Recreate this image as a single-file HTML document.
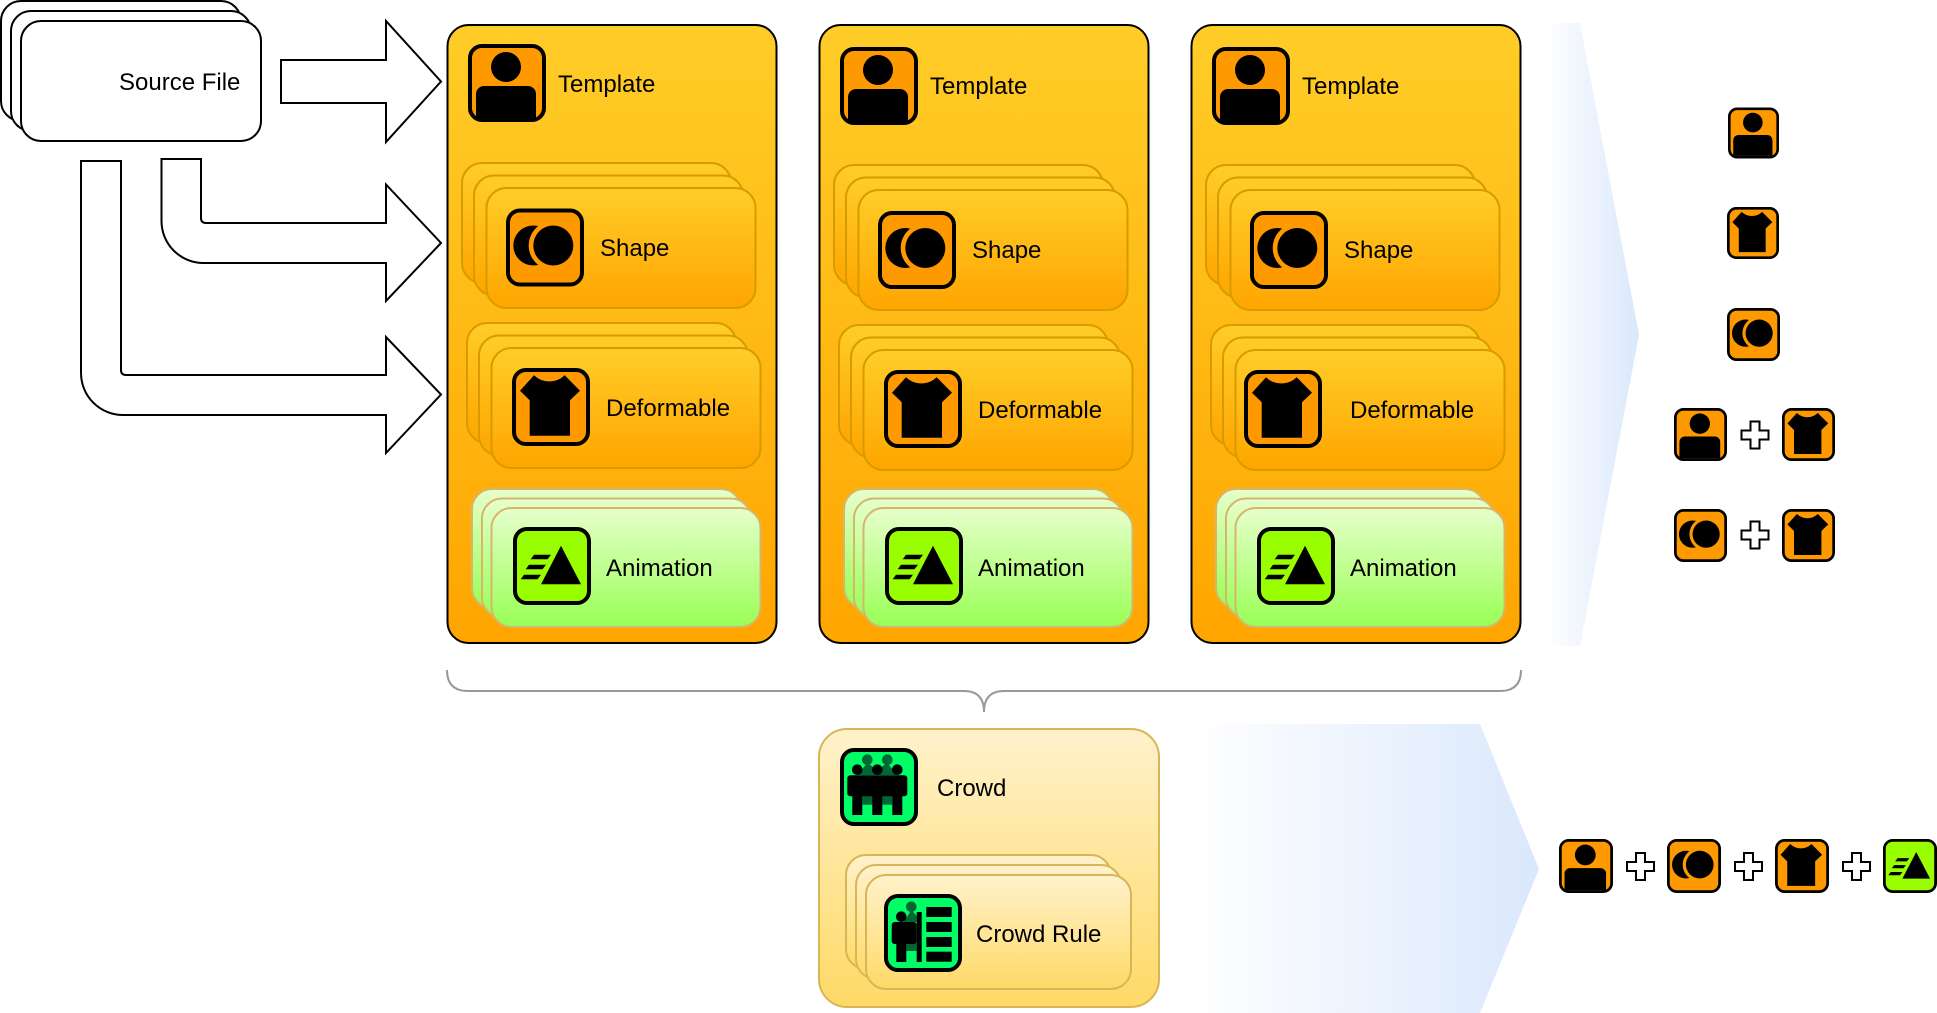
<!DOCTYPE html>
<html>
<head>
<meta charset="utf-8">
<style>
html,body{margin:0;padding:0;background:#fff;width:1937px;height:1013px;overflow:hidden}
svg{display:block}
text{font-family:"Liberation Sans",sans-serif;font-size:24px;fill:#000}
</style>
</head>
<body>
<svg width="1937" height="1013" viewBox="0 0 1937 1013" xmlns="http://www.w3.org/2000/svg">
<defs>
<linearGradient id="gO" x1="0" y1="0" x2="0" y2="1"><stop offset="0" stop-color="#ffcd28"/><stop offset="1" stop-color="#ffa500"/></linearGradient>
<linearGradient id="gG" x1="0" y1="0" x2="0" y2="1"><stop offset="0" stop-color="#e6ffcc"/><stop offset="1" stop-color="#99ff55"/></linearGradient>
<linearGradient id="gY" x1="0" y1="0" x2="0" y2="1"><stop offset="0" stop-color="#fff2cc"/><stop offset="1" stop-color="#ffd966"/></linearGradient>
<linearGradient id="gB" x1="0" y1="0" x2="1" y2="0"><stop offset="0" stop-color="#ffffff"/><stop offset="1" stop-color="#dae8fc"/></linearGradient>

<symbol id="iT" viewBox="0 0 78 78">
<rect x="2" y="2" width="74" height="74" rx="12" fill="#ff9900"/>
<circle cx="38" cy="23" r="15"/>
<path d="M8 50a8 8 0 0 1 8-8h44a8 8 0 0 1 8 8v24H8z"/>
<rect x="2" y="2" width="74" height="74" rx="12" fill="none" stroke="#000" stroke-width="4"/>
</symbol>
<symbol id="iS" viewBox="0 0 78 78">
<rect x="2" y="2" width="74" height="74" rx="12" fill="#ff9900" stroke="#000" stroke-width="4"/>
<circle cx="27.300" cy="37" r="20"/>
<circle cx="47.300" cy="37" r="24.600" fill="#ff9900"/>
<circle cx="47.300" cy="37" r="20"/>
</symbol>
<symbol id="iD" viewBox="0 0 78 78">
<rect x="2" y="2" width="74" height="74" rx="12" fill="#ff9900" stroke="#000" stroke-width="4"/>
<path d="M8 22.700L22 7.300A22 22 0 0 0 52.700 7.300L68 22.700L58 32.300V67.700H17.700V32.300Z"/>
</symbol>
<symbol id="iA" viewBox="0 0 78 78">
<rect x="2" y="2" width="74" height="74" rx="12" fill="#99ff00" stroke="#000" stroke-width="4"/>
<path d="M48 18.700L68 57.300H28Z"/>
<path d="M21 27.700H38L34.500 32.300H17.700ZM16 37.700H33L29.500 42.300H12.700ZM11 47.700H28L24.500 52.300H7.700Z"/>
</symbol>
<symbol id="iC" viewBox="0 0 78 78">
<rect x="2" y="2" width="74" height="74" rx="12" fill="#00ff66" stroke="#000" stroke-width="4"/>
<g fill="#006633"><circle cx="27.300" cy="11.700" r="5.300"/><circle cx="47.300" cy="11.700" r="5.300"/><path d="M27.300 15L37 22L47.300 15L57 27H17.300Z"/><rect x="22.300" y="46" width="30" height="10.700"/></g>
<circle cx="17.300" cy="21.700" r="5.300"/><circle cx="37.300" cy="21.700" r="5.300"/><circle cx="57.300" cy="21.700" r="5.300"/>
<rect x="7.300" y="27.300" width="60" height="21" rx="3"/>
<rect x="12.300" y="45" width="10" height="22"/><rect x="32.300" y="45" width="10" height="22"/><rect x="52.300" y="45" width="10" height="22"/>
</symbol>
<symbol id="iR" viewBox="0 0 78 78">
<rect x="2" y="2" width="74" height="74" rx="12" fill="#00ff66" stroke="#000" stroke-width="4"/>
<circle cx="27.300" cy="12.700" r="5.300" fill="#006633"/>
<path d="M27.300 16L32.700 22V28H20Z" fill="#006633"/>
<rect x="22.300" y="46" width="10.400" height="11" fill="#006633"/>
<circle cx="17.300" cy="22.700" r="5.300"/>
<rect x="7.700" y="28" width="25" height="22" rx="3"/>
<rect x="12.300" y="45" width="10" height="23"/>
<rect x="32.700" y="18" width="5" height="50"/>
<rect x="42.300" y="13" width="25.400" height="10"/><rect x="42.300" y="28" width="25.400" height="10"/><rect x="42.300" y="43" width="25.400" height="10"/><rect x="42.300" y="57.700" width="25.400" height="10"/>
</symbol>

<g id="stO" fill="url(#gO)" stroke="#d79b00" stroke-width="2">
<rect x="0" y="0" width="269" height="120" rx="20"/>
<rect x="12" y="12.500" width="269" height="120" rx="20"/>
<rect x="24.500" y="25" width="269" height="120" rx="20"/>
</g>
<g id="stG" fill="url(#gG)" stroke="#d7b56a" stroke-width="2">
<rect x="0" y="0" width="269" height="119" rx="20"/>
<rect x="10" y="9.500" width="269" height="119" rx="20"/>
<rect x="19.500" y="19" width="269" height="119" rx="20"/>
</g>
<path id="plus" d="M-4.500 -13.500H4.500V-4.500H13.500V4.500H4.500V13.500H-4.500V4.500H-13.500V-4.500H-4.500Z" fill="#fff" stroke="#000" stroke-width="2"/>
</defs>

<!-- Source file stack -->
<g fill="#fff" stroke="#000" stroke-width="2">
<rect x="1" y="1" width="240" height="120" rx="20"/>
<rect x="11" y="11" width="240" height="120" rx="20"/>
<rect x="21" y="21" width="240" height="120" rx="20"/>
</g>
<text x="119" y="90">Source File</text>

<!-- Arrows -->
<g fill="#fff" stroke="#000" stroke-width="2" stroke-linejoin="miter">
<path d="M281 60H386V21L441 81.500L386 142V103H281Z"/>
<path d="M161.500 159H201V218Q201 223 206 223H386V184.500L441 243L386 301V263H203.500A42 42 0 0 1 161.500 221Z"/>
<path d="M81 161H121V370Q121 375 126 375H386V337L441 394.500L386 453V415H123A42 42 0 0 1 81 373Z"/>
</g>

<!-- Panels -->
<g fill="url(#gO)" stroke="#000" stroke-width="2">
<rect x="447.500" y="25" width="329" height="618" rx="21"/>
<rect x="819.500" y="25" width="329" height="618" rx="21"/>
<rect x="1191.500" y="25" width="329" height="618" rx="21"/>
</g>

<!-- Panel 1 -->
<use href="#iT" x="468" y="44" width="78" height="78"/>
<text x="558" y="92">Template</text>
<use href="#stO" x="462" y="163"/>
<use href="#iS" x="506" y="208.500" width="78" height="78"/>
<text x="600" y="256">Shape</text>
<use href="#stO" x="467" y="323"/>
<use href="#iD" x="512" y="368" width="78" height="78"/>
<text x="606" y="416">Deformable</text>
<use href="#stG" x="472" y="489"/>
<use href="#iA" x="513" y="527" width="78" height="78"/>
<text x="606" y="576">Animation</text>

<!-- Panel 2 -->
<use href="#iT" x="840" y="47" width="78" height="78"/>
<text x="930" y="94">Template</text>
<use href="#stO" x="834" y="165"/>
<use href="#iS" x="878" y="211" width="78" height="78"/>
<text x="972" y="258">Shape</text>
<use href="#stO" x="839" y="325"/>
<use href="#iD" x="884" y="370" width="78" height="78"/>
<text x="978" y="418">Deformable</text>
<use href="#stG" x="844" y="489"/>
<use href="#iA" x="885" y="527" width="78" height="78"/>
<text x="978" y="576">Animation</text>

<!-- Panel 3 -->
<use href="#iT" x="1212" y="47" width="78" height="78"/>
<text x="1302" y="94">Template</text>
<use href="#stO" x="1206" y="165"/>
<use href="#iS" x="1250" y="211" width="78" height="78"/>
<text x="1344" y="258">Shape</text>
<use href="#stO" x="1211" y="325"/>
<use href="#iD" x="1244" y="370" width="78" height="78"/>
<text x="1350" y="418">Deformable</text>
<use href="#stG" x="1216" y="489"/>
<use href="#iA" x="1257" y="527" width="78" height="78"/>
<text x="1350" y="576">Animation</text>

<!-- Brace -->
<path d="M447 670Q447 691 468 691H964Q984 691 984 712Q984 691 1004 691H1500Q1521 691 1521 670" fill="none" stroke="#999" stroke-width="2"/>

<!-- Chevrons -->
<path d="M1544 23H1580L1639 335L1580 646H1544Z" fill="url(#gB)"/>
<path d="M1190 724H1480L1539 869L1480 1013H1190Z" fill="url(#gB)"/>

<!-- Crowd -->
<rect x="819" y="729" width="340" height="278" rx="28" fill="url(#gY)" stroke="#d6b656" stroke-width="2"/>
<use href="#iC" x="840" y="748" width="78" height="78"/>
<text x="937" y="796">Crowd</text>
<g fill="url(#gY)" stroke="#d6b656" stroke-width="2">
<rect x="846" y="855" width="265" height="114" rx="20"/>
<rect x="856" y="865" width="265" height="114" rx="20"/>
<rect x="866" y="875" width="265" height="114" rx="20"/>
</g>
<use href="#iR" x="884" y="894" width="78" height="78"/>
<text x="976" y="942">Crowd Rule</text>

<!-- Right icons -->
<use href="#iT" x="1728" y="107" width="51" height="52"/>
<use href="#iD" x="1727" y="207" width="52" height="52"/>
<use href="#iS" x="1727" y="308" width="53" height="53"/>
<use href="#iT" x="1674" y="408" width="53" height="53"/>
<use href="#plus" x="1755" y="435"/>
<use href="#iD" x="1782" y="408" width="53" height="53"/>
<use href="#iS" x="1674" y="509" width="53" height="53"/>
<use href="#plus" x="1755" y="535"/>
<use href="#iD" x="1782" y="509" width="53" height="53"/>

<use href="#iT" x="1559" y="839" width="54" height="54"/>
<use href="#plus" x="1640.500" y="866.500"/>
<use href="#iS" x="1667" y="839" width="54" height="54"/>
<use href="#plus" x="1748.500" y="866.500"/>
<use href="#iD" x="1775" y="839" width="54" height="54"/>
<use href="#plus" x="1856.500" y="866.500"/>
<use href="#iA" x="1883" y="839" width="54" height="54"/>
</svg>
</body>
</html>
